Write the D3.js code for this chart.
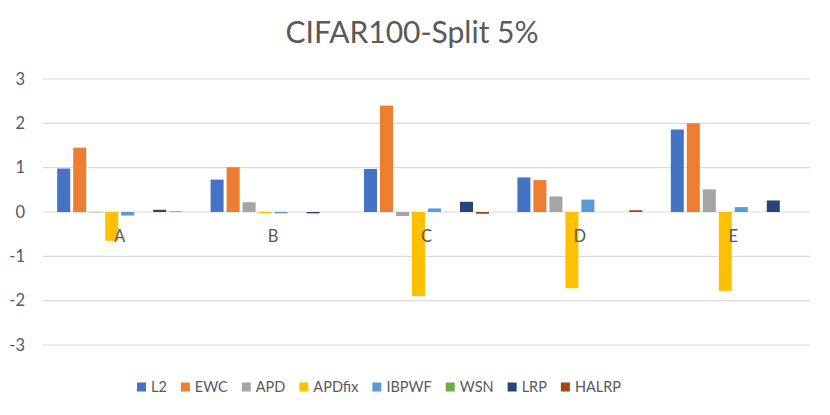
<!DOCTYPE html>
<html><head><meta charset="utf-8">
<script src="https://cdn.jsdelivr.net/npm/d3@7"></script>
<style>html,body{margin:0;padding:0;background:#fff;}svg{display:block;}</style>
</head><body>
<svg id="chart" width="830" height="415"></svg>
<script>
const title = "CIFAR100-Split 5%";
const categories = ["A", "B", "C", "D", "E"];
const seriesNames = ["L2", "EWC", "APD", "APDfix", "IBPWF", "WSN", "LRP", "HALRP"];
const L2     = [0.98, 0.73, 0.97, 0.78, 1.86];
const EWC    = [1.45, 1.01, 2.40, 0.72, 2.00];
const APD    = [-0.01, 0.22, -0.09, 0.35, 0.51];
const APDfix = [-0.65, -0.03, -1.90, -1.72, -1.78];
const IBPWF  = [-0.08, -0.03, 0.08, 0.28, 0.11];
const WSN    = [0, 0, 0, 0, 0];
const LRP    = [0.05, -0.03, 0.23, 0, 0.26];
const HALRP  = [0.01, 0, -0.04, 0.04, 0];
const yTicks = [-3, -2, -1, 0, 1, 2, 3];
const colors = ["#4472C4", "#ED7D31", "#A5A5A5", "#FFC000", "#5B9BD5", "#70AD47", "#264478", "#9E480E"];

const seriesValues = [L2, EWC, APD, APDfix, IBPWF, WSN, LRP, HALRP];
const font = "Lato, 'Open Sans', sans-serif";
const textColor = "#595959";

const svg = d3.select("#chart");
const plotLeft = 43, plotRight = 810, plotTop = 79, plotBottom = 345;

const y = d3.scaleLinear().domain([-3, 3]).range([plotBottom, plotTop]);
const x0 = d3.scaleBand().domain(categories).range([plotLeft, plotRight]).padding(0);
const x1 = d3.scaleBand().domain(seriesNames).range([0, x0.bandwidth()])
  .paddingInner(0.1875).paddingOuter(0.8875);
const color = d3.scaleOrdinal().domain(seriesNames).range(colors);

// title
svg.append("text").attr("x", 412).attr("y", 43).attr("text-anchor", "middle")
  .attr("font-family", font).attr("font-size", 30).attr("fill", textColor).text(title);

// gridlines
svg.append("g").selectAll("line").data(yTicks).join("line")
  .attr("x1", plotLeft).attr("x2", plotRight)
  .attr("y1", d => y(d)).attr("y2", d => y(d))
  .attr("stroke", "#D9D9D9").attr("stroke-width", 1.2);

// y axis labels
const yAxis = d3.axisLeft(y).tickValues(yTicks).tickSize(0).tickPadding(0).tickFormat(d => String(d));
const ya = svg.append("g").attr("transform", "translate(25,0)").call(yAxis);
ya.select(".domain").remove();
ya.selectAll("text").attr("font-family", font).attr("font-size", 16.5).attr("fill", textColor);

// bars
const rows = categories.map((c, i) => ({cat: c, vals: seriesNames.map((s, j) => ({s, v: seriesValues[j][i]}))}));
const groups = svg.append("g").selectAll("g").data(rows).join("g")
  .attr("transform", d => `translate(${x0(d.cat)},0)`);
groups.selectAll("rect").data(d => d.vals).join("rect")
  .attr("x", d => x1(d.s))
  .attr("width", x1.bandwidth())
  .attr("y", d => y(Math.max(0, d.v)))
  .attr("height", d => Math.abs(y(d.v) - y(0)))
  .attr("fill", d => color(d.s));

// category labels
const xAxis = d3.axisBottom(x0).tickSize(0).tickPadding(0);
const xa = svg.append("g").attr("transform", `translate(0,${y(0) + 18})`).call(xAxis);
xa.select(".domain").remove();
xa.selectAll("text").attr("font-family", font).attr("font-size", 16.5).attr("fill", textColor).attr("dy", "0.71em").attr("y", 0);

// legend
const lg = svg.append("g");
const items = lg.selectAll("g").data(seriesNames).join("g");
items.append("rect").attr("width", 9).attr("height", 9).attr("y", -9.5).attr("fill", d => color(d));
items.append("text").attr("x", 14).attr("font-family", font).attr("font-size", 14.5)
  .attr("fill", textColor).text(d => d);
let xpos = 0;
items.each(function() {
  const g = d3.select(this);
  const w = 14 + g.select("text").node().getComputedTextLength();
  g.attr("transform", `translate(${xpos},0)`);
  xpos += w + 14;
});
const total = xpos - 14;
lg.attr("transform", `translate(${379 - total / 2},392)`);
</script>
</body></html>
